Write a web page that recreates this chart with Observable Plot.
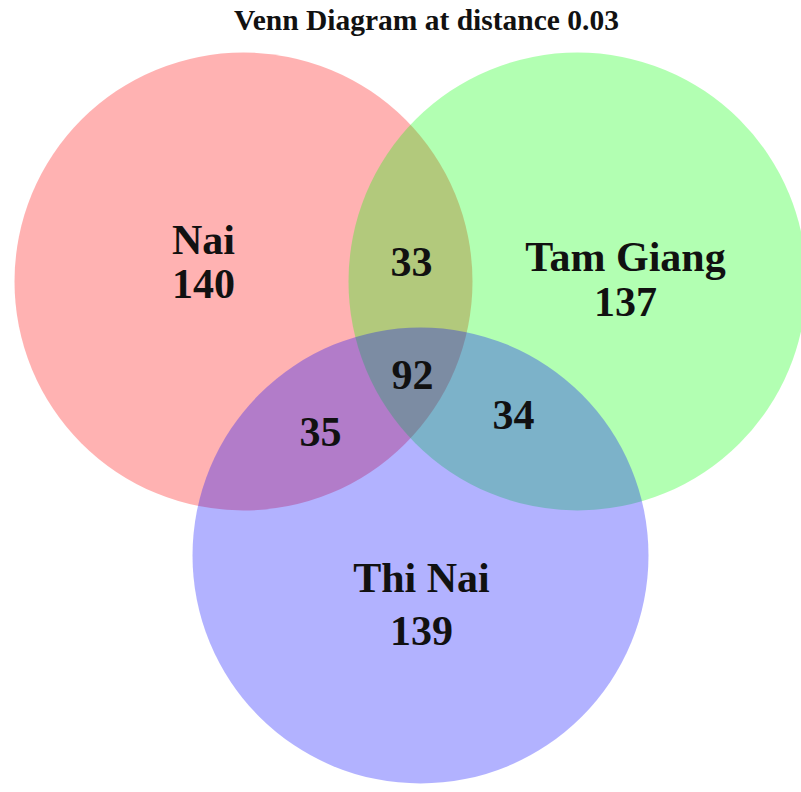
<!DOCTYPE html>
<html>
<head>
<meta charset="utf-8">
<script src="https://cdn.jsdelivr.net/npm/d3@7"></script>
<script src="https://cdn.jsdelivr.net/npm/@observablehq/plot@0.6"></script>
<style>
  html, body { margin: 0; padding: 0; background: #ffffff; }
  svg { display: block; }
</style>
</head>
<body>
<div id="chart"></div>
<script>
// --- data ---
const title = "Venn Diagram at distance 0.03";
const sets = ["Nai", "Tam Giang", "Thi Nai"];
const setOnly = [140, 137, 139];          // unique to each set
const pairNames = ["Nai ∩ Tam Giang", "Tam Giang ∩ Thi Nai", "Nai ∩ Thi Nai"];
const pairValues = [33, 34, 35];
const tripleValue = 92;
const setColors = ["#ff0000", "#00ff00", "#0000ff"];

// layout (in pixel-like units of the drawing space)
const circleCx = [243, 577, 420];
const circleCy = [281, 281, 555];
const circleR = [229, 229, 228];

const circles = sets.map((s, i) => ({set: s, cx: circleCx[i], cy: circleCy[i], r: circleR[i], color: setColors[i]}));

const setNameX = [203, 625, 421];
const setNameY = [240, 257, 578];
const setCountY = [284, 302, 631];
const pairLabelX = [411, 513, 320];
const pairLabelY = [262, 415, 432];
const tripleX = 412, tripleY = 375;
const titleX = 426, titleY = 20;

const labels = [
  ...sets.map((s, i) => ({x: setNameX[i], y: setNameY[i], text: s})),
  ...setOnly.map((v, i) => ({x: setNameX[i], y: setCountY[i], text: String(v)})),
  ...pairValues.map((v, i) => ({x: pairLabelX[i], y: pairLabelY[i], text: String(v)})),
  {x: tripleX, y: tripleY, text: String(tripleValue)}
];

const font = "'Liberation Serif', 'Times New Roman', serif";

const chart = Plot.plot({
  width: 801,
  height: 792,
  margin: 0,
  style: {background: "#ffffff"},
  x: {domain: [0, 801], range: [0, 801], axis: null},
  y: {domain: [0, 792], range: [0, 792], axis: null},
  r: {type: "identity"},
  color: {type: "identity"},
  marks: [
    Plot.dot(circles, {x: "cx", y: "cy", r: "r", fill: "color", fillOpacity: 0.3, stroke: "none"}),
    Plot.text(labels, {x: "x", y: "y", text: "text", fontSize: 42, fontWeight: "bold", fontFamily: font, fill: "#111"}),
    Plot.text([title], {x: () => titleX, y: () => titleY, text: d => d, fontSize: 29.5, fontWeight: "bold", fontFamily: font, fill: "#111"})
  ]
});
document.getElementById("chart").appendChild(chart);
</script>
</body>
</html>
